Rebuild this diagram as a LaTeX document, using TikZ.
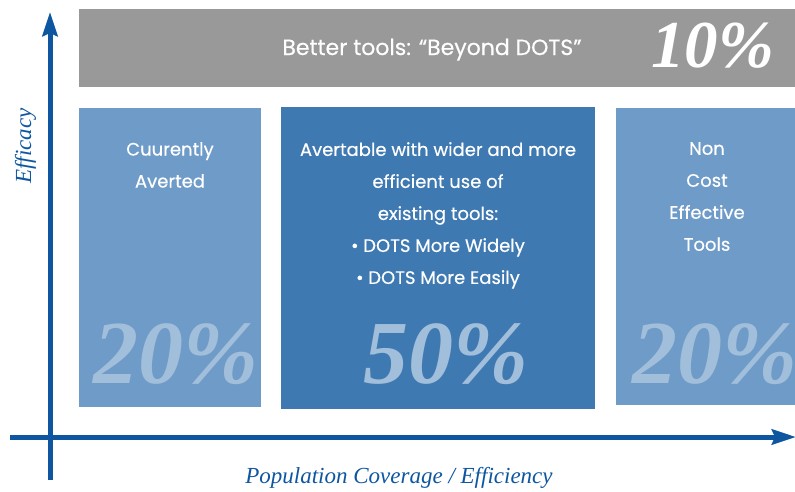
\documentclass[tikz,border=0pt]{standalone}
\usepackage{fontspec}
\setmainfont{Liberation Serif}
\newfontfamily\boxfont[FakeBold=0.4]{Poppins}
\newfontfamily\pctfont{Liberation Serif}
\usetikzlibrary{arrows.meta}
\definecolor{axisblue}{HTML}{0E57A0}
\definecolor{boxlight}{HTML}{6F9BC8}
\definecolor{boxdark}{HTML}{3E79B2}
\definecolor{pctblue}{HTML}{A1BEDB}
\definecolor{bargray}{HTML}{999999}
\tikzset{
  panel/.style={anchor=north west, inner sep=0pt, outer sep=0pt, draw=none},
  paneltext/.style={text=white, align=center, inner sep=0pt, anchor=north,
    font=\boxfont\fontsize{18}{32}\selectfont},
  bigpct/.style={inner sep=0pt, font=\pctfont\bfseries\itshape\fontsize{90}{90}\selectfont},
  axis/.style={draw=axisblue, line width=5pt, -{Stealth[width=15pt,length=24pt,inset=3pt]}},
  axislabel/.style={text=axisblue, inner sep=0pt, font=\itshape\fontsize{23}{23}\selectfont}
}
\begin{document}
\begin{tikzpicture}[x=1pt,y=-1pt]
\useasboundingbox (0,0) rectangle (795,491);
% top band
\node[panel, fill=bargray, minimum width=716, minimum height=78] (bar) at (79,9) {};
\node[text=white, inner sep=0pt, anchor=base, font=\boxfont\fontsize{22}{26}\selectfont] (bartext) at (432,55) {Better tools: “Beyond DOTS”};
\node[text=white, inner sep=0pt, anchor=base west, font=\pctfont\bfseries\itshape\fontsize{67}{67}\selectfont] (barpct) at (651,67) {10\%};
% three panels
\node[panel, fill=boxlight, minimum width=182, minimum height=299] (b1) at (79,108) {};
\node[panel, fill=boxdark, minimum width=314, minimum height=302] (b2) at (281,107) {};
\node[panel, fill=boxlight, minimum width=179, minimum height=297] (b3) at (616,108) {};
\node[bigpct, text=pctblue, anchor=base east] (p1) at (259,383) {20\%};
\node[bigpct, text=pctblue, anchor=base] (p2) at (446,383) {50\%};
\node[bigpct, text=pctblue, anchor=base west] (p3) at (632,383) {20\%};
\node[paneltext] (t1) at (170,142) {Cuurently\\Averted};
\node[paneltext] (t2) at (438,142) {Avertable with wider and more\\efficient use of\\existing tools:\\• DOTS More Widely\\• DOTS More Easily};
\node[paneltext] (t3) at (707,142) {Non\\Cost\\Effective\\Tools};
% axes
\coordinate (yfoot) at (50,480);
\coordinate (ytip) at (50,12);
\coordinate (xfoot) at (10,437);
\coordinate (xtip) at (796,437);
\draw[axis] (yfoot) -- (ytip);
\draw[axis] (xfoot) -- (xtip);
\node[axislabel, anchor=base] (xlab) at (399,483) {Population Coverage / Efficiency};
\node[axislabel, anchor=base, rotate=90] (ylab) at (31,146) {Efficacy};
\end{tikzpicture}
\end{document}
